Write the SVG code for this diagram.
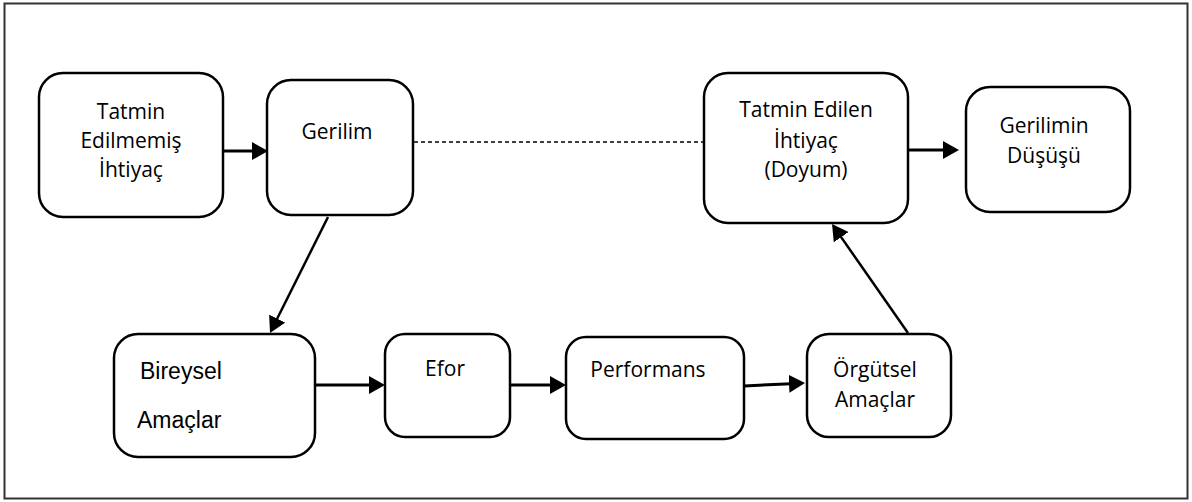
<svg xmlns="http://www.w3.org/2000/svg" width="1192" height="502" viewBox="0 0 1192 502">
  <style>
    .box { fill: #ffffff; stroke: #000000; stroke-width: 2.5; }
    .t { font-family: "Open Sans", "Noto Sans", sans-serif; font-size: 21px; fill: #000; text-anchor: middle; }
    .a { font-family: "Liberation Sans", Arial, sans-serif; font-size: 23px; fill: #000; }
    .conn { stroke: #000; stroke-width: 3; fill: none; }
    .diag { stroke: #000; stroke-width: 2.5; fill: none; }
    .dash { stroke: #000; stroke-width: 1.4; stroke-dasharray: 4 3; fill: none; }
  </style>
  <defs>
    <marker id="arr" markerUnits="userSpaceOnUse" markerWidth="16" markerHeight="18" refX="8" refY="9" orient="auto" viewBox="0 0 16 18">
      <path d="M0,0 L16,9 L0,18 z" fill="#000"/>
    </marker>
  </defs>
  <rect x="4.5" y="3.5" width="1183" height="495" fill="#fff" stroke="#333" stroke-width="2"/>

  <g id="connectors">
    <line class="conn" x1="223" y1="151" x2="260" y2="151" marker-end="url(#arr)"/>
    <line class="dash" x1="414" y1="142" x2="705" y2="142"/>
    <line class="conn" x1="908" y1="150" x2="951" y2="150" marker-end="url(#arr)"/>
    <line class="diag" x1="328" y1="217" x2="273.6" y2="325.8" marker-end="url(#arr)"/>
    <line class="conn" x1="315" y1="385" x2="377" y2="385" marker-end="url(#arr)"/>
    <line class="conn" x1="510" y1="385" x2="558" y2="385" marker-end="url(#arr)"/>
    <line class="conn" x1="744" y1="386" x2="797" y2="383.4" marker-end="url(#arr)"/>
    <line class="diag" x1="908" y1="333" x2="836.6" y2="230.6" marker-end="url(#arr)"/>
  </g>

  <g id="tatmin-edilmemis">
    <rect class="box" x="39" y="73" width="184" height="144" rx="24" ry="24"/>
    <text class="t" x="131" y="119">Tatmin</text>
    <text class="t" x="131" y="148">Edilmemiş</text>
    <text class="t" x="131" y="177">İhtiyaç</text>
  </g>

  <g id="gerilim">
    <rect class="box" x="267" y="80" width="146" height="135" rx="24" ry="24"/>
    <text class="t" x="337" y="139">Gerilim</text>
  </g>

  <g id="tatmin-edilen">
    <rect class="box" x="704" y="73" width="204" height="150" rx="24" ry="24"/>
    <text class="t" x="806" y="117">Tatmin Edilen</text>
    <text class="t" x="806" y="148">İhtiyaç</text>
    <text class="t" x="806" y="177">(Doyum)</text>
  </g>

  <g id="gerilimin-dususu">
    <rect class="box" x="966" y="87" width="164" height="125" rx="24" ry="24"/>
    <text class="t" x="1044" y="133">Gerilimin</text>
    <text class="t" x="1044" y="163">Düşüşü</text>
  </g>

  <g id="bireysel-amaclar">
    <rect class="box" x="114" y="334" width="201" height="123" rx="24" ry="24"/>
    <text class="a" x="140" y="379">Bireysel</text>
    <text class="a" x="137" y="428">Amaçlar</text>
  </g>

  <g id="efor">
    <rect class="box" x="385" y="334" width="125" height="103" rx="20" ry="20"/>
    <text class="t" x="445" y="376">Efor</text>
  </g>

  <g id="performans">
    <rect class="box" x="566" y="337" width="178" height="102" rx="20" ry="20"/>
    <text class="t" x="648" y="377">Performans</text>
  </g>

  <g id="orgutsel-amaclar">
    <rect class="box" x="807" y="334" width="144" height="103" rx="22" ry="22"/>
    <text class="t" x="875" y="377">Örgütsel</text>
    <text class="t" x="875" y="407">Amaçlar</text>
  </g>
</svg>
